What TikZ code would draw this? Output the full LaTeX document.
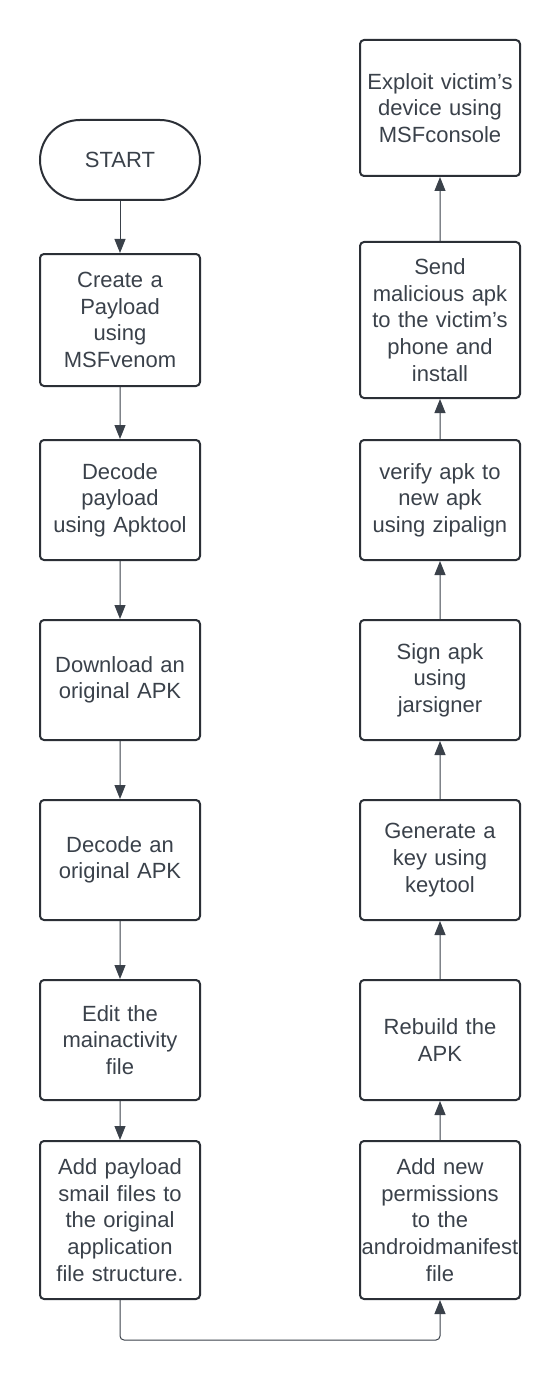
\documentclass[tikz,border=0pt]{standalone}
\usepackage{fontspec}
\setmainfont{Liberation Sans}
\usetikzlibrary{arrows.meta}
\definecolor{inkline}{HTML}{2B2F36}
\definecolor{inktext}{HTML}{3A414A}
\tikzset{
  stepbox/.style={draw=inkline, line width=1pt, rounded corners=2pt,
    minimum width=80pt, minimum height=60pt, text width=80pt, align=center,
    text=inktext, font=\fontsize{11pt}{13.3pt}\selectfont, inner sep=0pt},
  startbox/.style={stepbox, rounded corners=20pt, minimum height=40pt},
  flowline/.style={draw=inktext, line width=0.5pt, -{Triangle[length=7pt,width=5.5pt]}},
}
\begin{document}
\begin{tikzpicture}[grow=down, level distance=90pt,
edge from parent/.style={flowline},
level 1/.style={level distance=80pt},
level 2/.style={level distance=90pt}]
\useasboundingbox (0,0) rectangle (280pt,-690pt);
\node[startbox] (start) at (60pt,-80pt) {START}
    child { node[stepbox, minimum height=66pt] (create) {Create a\\Payload\\using\\MSFvenom}
        child { node[stepbox] (decpay) {Decode\\payload\\using Apktool}
            child { node[stepbox] (download) {Download an\\original APK}
                child { node[stepbox] (decorig) {Decode an\\original APK}
                    child { node[stepbox] (edit) {Edit the\\mainactivity\\file}
                        child { node[stepbox, minimum height=79pt] (addpay) {Add payload\\smail files to\\the original\\application\\file structure.} }
                    }
                }
            }
        }
    };
\begin{scope}[grow=up, level 1/.style={level distance=90pt},
level 2/.style={}, level 6/.style={level distance=106pt}]
\node[stepbox, minimum height=79pt] (addperm) at (220pt,-610pt) {Add new\\permissions\\to the\\androidmanifest\\file}
    child { node[stepbox] (rebuild) {Rebuild the\\APK}
        child { node[stepbox] (keygen) {Generate a\\key using\\keytool}
            child { node[stepbox] (sign) {Sign apk\\using\\jarsigner}
                child { node[stepbox] (verify) {verify apk to\\new apk\\using zipalign}
                    child { node[stepbox, minimum height=78pt] (send) {Send\\malicious apk\\to the victim’s\\phone and\\install}
                        child { node[stepbox, minimum height=68pt] (exploit) {Exploit victim’s\\device using\\MSFconsole} }
                    }
                }
            }
        }
    };
\end{scope}
% link between the two columns
\draw[flowline, rounded corners=2pt] (addpay.south) -- ++(0,-20pt) -| (addperm.south);
\end{tikzpicture}
\end{document}
